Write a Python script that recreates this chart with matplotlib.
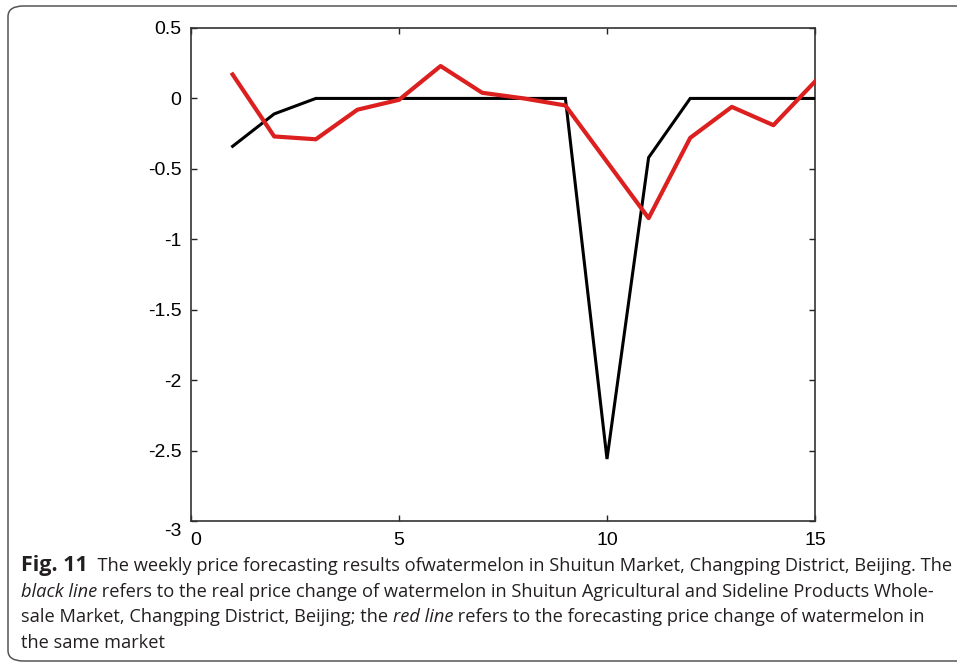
import matplotlib
matplotlib.use("Agg")
import matplotlib.pyplot as plt
from matplotlib.patches import FancyBboxPatch
from matplotlib.transforms import ScaledTranslation

# --- Data ---
weeks = [1, 2, 3, 4, 5, 6, 7, 8, 9, 10, 11, 12, 13, 14, 15]
real_change = [-0.34, -0.11, 0, 0, 0, 0, 0, 0, 0, -2.56, -0.42, 0, 0, 0, 0]
forecast_change = [0.17, -0.27, -0.29, -0.08, -0.01, 0.23, 0.04, 0.0, -0.05,
                   -0.45, -0.85, -0.28, -0.06, -0.19, 0.12]
xticks = [0, 5, 10, 15]
yticks = [0.5, 0, -0.5, -1, -1.5, -2, -2.5, -3]
ytick_labels = ["0.5", "0", "-0.5", "-1", "-1.5", "-2", "-2.5", "-3"]

# caption pieces per line: (text, style)
caption = [
    [("Fig. 11", "bold"), ("  The weekly price forecasting results ofwatermelon in Shuitun Market, "
                           "Changping District, Beijing. The", "normal")],
    [("black line", "italic"), (" refers to the real price change of watermelon in Shuitun "
                                "Agricultural and Sideline Products Whole-", "normal")],
    [("sale Market, Changping District, Beijing; the ", "normal"), ("red line", "italic"),
     (" refers to the forecasting price change of watermelon in", "normal")],
    [("the same market", "normal")],
]

W, H = 957, 665
fig = plt.figure(figsize=(W / 100, H / 100), dpi=100)
fig.patch.set_facecolor("white")

# rounded frame around figure + caption
frame = FancyBboxPatch((8 / W, 4 / H), 1.2, (H - 10) / H,
                       boxstyle="round,pad=0,rounding_size=0.016",
                       transform=fig.transFigure, fill=False,
                       edgecolor="#555555", linewidth=1.1, clip_on=False)
fig.patches.append(frame)

ax = fig.add_axes([191 / W, 1 - 521 / H, (815 - 191) / W, (521 - 28) / H])
ax.plot(weeks, real_change, color="black", lw=2.2, solid_joinstyle="miter", zorder=3)
ax.plot(weeks, forecast_change, color="#dc1f1f", lw=3.0, zorder=4)

ax.set_xlim(0, 15)
ax.set_ylim(-3, 0.5)
ax.set_xticks(xticks)
ax.set_yticks(yticks)
ax.set_yticklabels(ytick_labels)
ax.tick_params(direction="in", length=4, width=1, top=True, right=True,
               labelsize=14, colors="#222222", labelcolor="black")
ax.tick_params(axis="x", pad=8)
ax.tick_params(axis="y", pad=7)
for lab in ax.get_xticklabels() + ax.get_yticklabels():
    lab.set_family("Liberation Sans")

# MATLAB-style corner labels: "-3" sits a bit low, "0" a bit right
ylabs = ax.get_yticklabels()
ylabs[-1].set_transform(ylabs[-1].get_transform() + ScaledTranslation(0, -0.08, fig.dpi_scale_trans))
xlabs = ax.get_xticklabels()
xlabs[0].set_transform(xlabs[0].get_transform() + ScaledTranslation(0.05, 0, fig.dpi_scale_trans))

for sp in ax.spines.values():
    sp.set_color("#333333")
    sp.set_linewidth(1.2)

# caption, placed piece by piece
renderer = fig.canvas.get_renderer()
y0 = 571
for i, line in enumerate(caption):
    x = 21
    y = y0 + i * 25.7
    for txt, style in line:
        kw = dict(fontsize=13.15, family="Open Sans", color="#231f20",
                  va="baseline", ha="left")
        if style == "bold":
            kw["fontweight"] = "bold"
            kw["fontsize"] = 15.5
        if style == "italic":
            kw["fontstyle"] = "italic"
        t = fig.text(x / W, 1 - y / H, txt, **kw)
        bb = t.get_window_extent(renderer)
        x += bb.width

fig.savefig("out.png", dpi=100, facecolor="white")
